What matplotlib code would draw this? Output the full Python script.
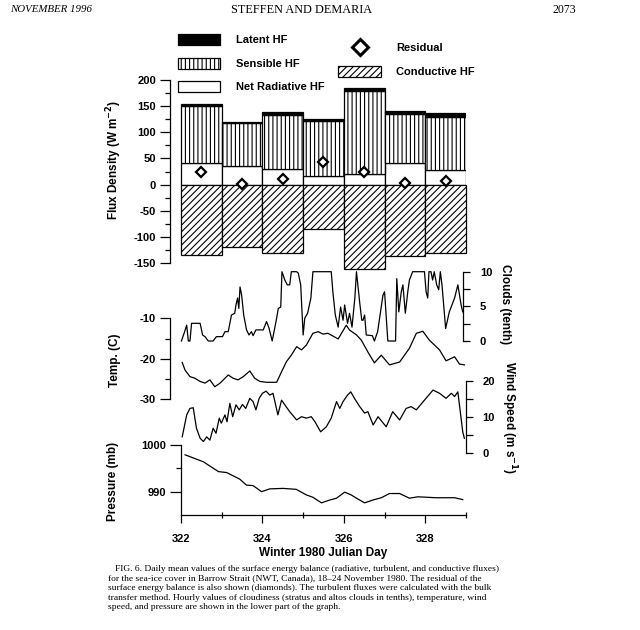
import matplotlib.pyplot as plt
from matplotlib.patches import Patch
from matplotlib.lines import Line2D
from matplotlib.ticker import MultipleLocator, FixedLocator

plt.rcParams['font.family'] = 'Liberation Sans'
plt.rcParams['font.weight'] = 'bold'
plt.rcParams['axes.unicode_minus'] = False
plt.rcParams['hatch.linewidth'] = 0.8

# Balanço de energia diário (W m-2)
dias = [322, 323, 324, 325, 326, 327, 328]
radiacao_liq = [41, 35, 29, 17, 21, 42, 27]
sensivel = [109, 83, 105, 105, 158, 93, 102]
latente = [4, 2, 5, 4, 5, 5, 8]
conducao = [-134, -120, -130, -85, -162, -137, -130]
residuo = [24, 2, 11, 44, 24, 3, 6]

# Nuvens (décimos)
dia_nuvem = [322.01, 322.09, 322.14, 322.18, 322.22, 322.26, 322.47, 322.53, 322.59, 322.67,
             322.79, 322.87, 323.02, 323.08, 323.16, 323.24, 323.32, 323.35, 323.39, 323.42,
             323.45, 323.49, 323.54, 323.61, 323.67, 323.73, 323.77, 323.84, 323.92, 324.02,
             324.10, 324.16, 324.24, 324.34, 324.39, 324.45, 324.48, 324.55, 324.61, 324.67,
             324.71, 324.84, 324.88, 324.94, 325.00, 325.04, 325.11, 325.19, 325.24, 325.69,
             325.73, 325.79, 325.86, 325.92, 325.98, 326.02, 326.09, 326.14, 326.20, 326.27,
             326.31, 326.39, 326.44, 326.47, 326.51, 326.55, 326.70, 326.75, 326.83, 326.96,
             327.00, 327.08, 327.27, 327.30, 327.35, 327.41, 327.45, 327.51, 327.57, 327.61,
             327.69, 327.98, 328.02, 328.06, 328.09, 328.14, 328.18, 328.22, 328.28, 328.33,
             328.37, 328.41, 328.50, 328.59, 328.72, 328.80, 328.88, 328.92]
nuvens = [0, 1.35, 2.3, 0, 0, 2.55, 2.55, 0.87, 0.63, 0,
          0, 0.63, 0.63, 1.35, 1.35, 3.75, 4.0, 5.2, 6.2, 4.7,
          7.8, 6.6, 3.75, 1.6, 0.87, 1.35, 0.77, 1.6, 1.6, 1.6,
          2.8, 1.9, 0, 3.0, 4.7, 4.9, 10, 8.8, 8.1, 8.1,
          10, 10, 9.8, 8.1, 0.87, 3.3, 4.0, 6.2, 10, 10,
          7.1, 3.75, 2.0, 4.9, 3.0, 5.2, 2.55, 4.0, 2.0, 6.2,
          10, 5.5, 3.0, 3.0, 3.75, 0.87, 0.77, 0, 1.35, 6.6,
          7.1, 0, 0, 9.0, 4.2, 7.1, 8.1, 4.0, 7.1, 8.8,
          10, 10, 7.1, 6.2, 10, 10, 8.8, 10, 8.1, 7.4,
          10, 8.1, 1.8, 4.2, 6.2, 8.1, 5.2, 4.2]

# Temperatura (C)
dia_temp = [322.03, 322.10, 322.22, 322.34, 322.47, 322.59, 322.71, 322.83, 322.96, 323.04,
            323.16, 323.28, 323.40, 323.53, 323.69, 323.81, 323.94, 324.10, 324.35, 324.47,
            324.59, 324.71, 324.84, 324.96, 325.08, 325.24, 325.37, 325.49, 325.61, 325.86,
            326.06, 326.14, 326.31, 326.43, 326.60, 326.75, 326.92, 327.12, 327.37, 327.61,
            327.78, 327.94, 328.10, 328.35, 328.51, 328.72, 328.84, 328.96]
temperatura = [-20.9, -22.8, -24.4, -24.8, -25.6, -26.0, -25.2, -26.9, -26.0, -25.2,
               -24.0, -24.8, -25.2, -24.4, -23.0, -24.8, -25.6, -25.8, -25.8, -23.2,
               -20.7, -19.1, -17.0, -17.8, -16.6, -13.7, -13.3, -13.9, -13.7, -15.1,
               -11.7, -12.9, -14.1, -15.4, -18.5, -21.0, -19.1, -21.5, -20.8, -17.4,
               -13.7, -13.2, -15.4, -17.8, -20.5, -19.5, -21.3, -21.5]

# Vento (m/s)
dia_vento = [322.03, 322.14, 322.22, 322.30, 322.38, 322.47, 322.55, 322.63, 322.71, 322.79,
             322.86, 322.94, 322.99, 323.08, 323.13, 323.20, 323.27, 323.35, 323.43, 323.51,
             323.59, 323.69, 323.77, 323.84, 323.92, 324.00, 324.09, 324.18, 324.26, 324.38,
             324.47, 324.55, 324.67, 324.84, 324.96, 325.08, 325.20, 325.29, 325.43, 325.57,
             325.69, 325.82, 325.90, 325.98, 326.09, 326.17, 326.26, 326.39, 326.51, 326.59,
             326.72, 326.84, 327.04, 327.20, 327.37, 327.53, 327.65, 327.78, 327.98, 328.19,
             328.35, 328.51, 328.64, 328.72, 328.80, 328.92, 328.96]
vento = [4.4, 10.5, 12.3, 12.5, 6.8, 4.0, 3.1, 4.4, 3.5, 6.8,
         5.4, 9.6, 8.2, 10.5, 8.6, 13.7, 10.0, 13.3, 11.9, 13.4,
         12.3, 15.1, 14.2, 11.9, 15.1, 16.5, 17.1, 16.0, 16.5, 10.5,
         14.6, 13.3, 11.4, 9.1, 10.0, 9.6, 10.0, 8.6, 5.8, 7.2,
         9.6, 14.2, 12.3, 14.2, 16.0, 16.9, 15.1, 12.8, 11.0, 11.4,
         7.7, 10.0, 7.2, 11.4, 9.1, 12.3, 12.8, 11.9, 14.6, 17.4,
         16.5, 15.1, 16.5, 15.6, 16.9, 5.8, 4.0]

# Pressão (mb)
dia_pressao = [322.10, 322.55, 322.92, 323.12, 323.44, 323.61, 323.77, 323.98, 324.18, 324.51,
               324.83, 325.08, 325.24, 325.45, 325.65, 325.82, 326.02, 326.18, 326.31, 326.51,
               326.71, 326.92, 327.12, 327.37, 327.61, 327.82, 328.26, 328.72, 328.92]
pressao = [997.9, 996.4, 994.3, 994.1, 992.7, 991.4, 991.3, 990.0, 990.6, 990.7,
           990.5, 989.3, 988.8, 987.6, 988.2, 988.6, 989.9, 989.3, 988.6, 987.6,
           988.2, 988.7, 989.6, 989.6, 988.6, 988.9, 988.7, 988.7, 988.3]

W, H = 640, 630
fig = plt.figure(figsize=(W / 100, H / 100), dpi=100)
fig.patch.set_facecolor('white')

XMIN, XMAX = 321.73, 329.0
FS = 8


def caixa(x0, y0, x1, y1):
    ax = fig.add_axes([x0 / W, 1 - y1 / H, (x1 - x0) / W, (y1 - y0) / H])
    ax.patch.set_visible(False)
    for s in ax.spines.values():
        s.set_visible(False)
        s.set_linewidth(0.9)
    ax.set_xlim(XMIN, XMAX)
    ax.set_xticks([])
    ax.tick_params(which='major', length=7, width=0.9, labelsize=FS, pad=3)
    ax.tick_params(which='minor', length=3.5, width=0.9)
    return ax


# ---- barras do balanço de energia ----
ax = caixa(170, 80, 466, 270.9)
ax.set_ylim(-165, 200)
centros = [d + 0.5 for d in dias]
topo_rad = radiacao_liq
topo_sens = [a + b for a, b in zip(radiacao_liq, sensivel)]
kw = dict(width=1.0, edgecolor='black', linewidth=0.9)
ax.bar(centros, radiacao_liq, color='white', **kw)
ax.bar(centros, sensivel, bottom=topo_rad, color='white', hatch='||||', **kw)
ax.bar(centros, latente, bottom=topo_sens, color='black', **kw)
ax.bar(centros, conducao, color='white', hatch='/////', clip_on=False, **kw)
ax.plot(centros, residuo, 'D', ms=5, mfc='white', mec='black', mew=1.6)
ax.spines['left'].set_visible(True)
ax.spines['left'].set_bounds(-150, 200)
ax.yaxis.set_major_locator(FixedLocator(range(-150, 201, 50)))
ax.yaxis.set_minor_locator(FixedLocator(range(-150, 201, 25)))

h1 = [Patch(facecolor='black', edgecolor='black', linewidth=0.9),
      Patch(facecolor='white', edgecolor='black', hatch='||||', linewidth=0.9),
      Patch(facecolor='white', edgecolor='black', linewidth=0.9)]
leg1 = ax.legend(h1, ['Latent HF', 'Sensible HF', 'Net Radiative HF'],
                 loc='upper left', bbox_to_anchor=(178 / W, 1 - 34 / H),
                 bbox_transform=fig.transFigure, frameon=False, borderpad=0,
                 borderaxespad=0, handlelength=3.8, handleheight=1.15,
                 handletextpad=1.4, labelspacing=1.1, fontsize=FS)
ax.add_artist(leg1)
h2 = [Line2D([], [], marker='D', ls='none', ms=8, mfc='white', mec='black', mew=2.2),
      Patch(facecolor='white', edgecolor='black', hatch='/////', linewidth=0.9)]
ax.legend(h2, ['Residual', 'Conductive HF'], loc='upper left',
          bbox_to_anchor=(338 / W, 1 - 42 / H), bbox_transform=fig.transFigure,
          frameon=False, borderpad=0, borderaxespad=0, handlelength=3.9,
          handleheight=1.15, handletextpad=1.3, labelspacing=1.15, fontsize=FS)

# ---- nuvens ----
axn = caixa(170, 271.7, 466, 341)
axn.set_ylim(0, 10)
axn.plot(dia_nuvem, nuvens, color='black', lw=0.9, clip_on=False)
axn.spines['right'].set_visible(True)
axn.spines['right'].set_position(('data', 328.93))
axn.yaxis.tick_right()
axn.yaxis.set_major_locator(MultipleLocator(5))
axn.yaxis.set_minor_locator(MultipleLocator(2.5))
axn.tick_params(axis='y', which='major', length=5, pad=7)
axn.tick_params(axis='y', which='minor', length=5)

# ---- temperatura ----
axt = caixa(170, 318.3, 466, 399.3)
axt.set_ylim(-30, -10)
axt.plot(dia_temp, temperatura, color='black', lw=0.9, clip_on=False)
axt.spines['left'].set_visible(True)
axt.yaxis.set_major_locator(MultipleLocator(10))
axt.yaxis.set_minor_locator(MultipleLocator(5))

# ---- vento ----
axv = caixa(170, 380.7, 466, 452.7)
axv.set_ylim(0, 20)
axv.plot(dia_vento, vento, color='black', lw=0.9, clip_on=False)
axv.spines['right'].set_visible(True)
axv.yaxis.tick_right()
axv.yaxis.set_major_locator(MultipleLocator(10))
axv.yaxis.set_minor_locator(MultipleLocator(5))
axv.tick_params(axis='y', which='major', length=5, pad=7)
axv.tick_params(axis='y', which='minor', length=5)

# ---- pressão ----
axp = caixa(170, 445, 466, 515)
axp.set_ylim(985, 1000)
axp.plot(dia_pressao, pressao, color='black', lw=0.9)
axp.spines['left'].set_visible(True)
axp.spines['left'].set_position(('data', 322))
axp.spines['left'].set_bounds(985, 1000)
axp.spines['bottom'].set_visible(True)
axp.spines['bottom'].set_bounds(322, 329)
axp.yaxis.set_major_locator(FixedLocator([990, 1000]))
axp.yaxis.set_minor_locator(FixedLocator([995]))
axp.tick_params(axis='y', which='major', length=8)
axp.set_xticks([322, 324, 326, 328])
axp.set_xticks([323, 325, 327, 329], minor=True)
axp.tick_params(axis='x', which='major', length=6, pad=8)
axp.tick_params(axis='x', which='minor', direction='inout', length=5)

# ---- rótulos dos eixos ----
fig.text(114 / W, 1 - 160 / H, 'Flux Density (W m$^{\\mathbf{-2}}$)', rotation=90,
         ha='center', va='center', fontsize=FS + 0.5)
fig.text(115 / W, 1 - 360 / H, 'Temp. (C)', rotation=90, ha='center', va='center',
         fontsize=FS + 0.5)
fig.text(113 / W, 1 - 481 / H, 'Pressure (mb)', rotation=90, ha='center', va='center',
         fontsize=FS + 0.5)
fig.text(505 / W, 1 - 304 / H, 'Clouds (tenth)', rotation=-90, ha='center', va='center',
         fontsize=FS + 0.5)
fig.text(509 / W, 1 - 418 / H, 'Wind Speed (m s$^{\\mathbf{-1}}$)', rotation=-90,
         ha='center', va='center', fontsize=FS + 0.5)
fig.text(323 / W, 1 - 553 / H, 'Winter 1980 Julian Day', ha='center', va='center',
         fontsize=FS + 0.5)

# ---- cabeçalho da página ----
serif = 'Liberation Serif'
fig.text(10 / W, 1 - 10 / H, 'NOVEMBER 1996', family=serif, weight='normal',
         style='italic', fontsize=7.8, va='center')
fig.text(302 / W, 1 - 10 / H, 'STEFFEN AND DEMARIA', family=serif, weight='normal',
         fontsize=8.8, ha='center', va='center')
fig.text(576 / W, 1 - 10 / H, '2073', family=serif, weight='normal', fontsize=8.5,
         ha='right', va='center')

# ---- legenda da figura ----
legenda = [
    'FIG. 6. Daily mean values of the surface energy balance (radiative, turbulent, and conductive fluxes)',
    'for the sea-ice cover in Barrow Strait (NWT, Canada), 18\u201324 November 1980. The residual of the',
    'surface energy balance is also shown (diamonds). The turbulent fluxes were calculated with the bulk',
    'transfer method. Hourly values of cloudiness (stratus and altos clouds in tenths), temperature, wind',
    'speed, and pressure are shown in the lower part of the graph.',
]
for i, linha in enumerate(legenda):
    x0 = 115 if i == 0 else 108
    fig.text(x0 / W, 1 - (569 + 9.6 * i) / H, linha, family=serif, weight='normal',
             fontsize=6.8, va='center')

fig.savefig('out.png', dpi=100, facecolor='white')
